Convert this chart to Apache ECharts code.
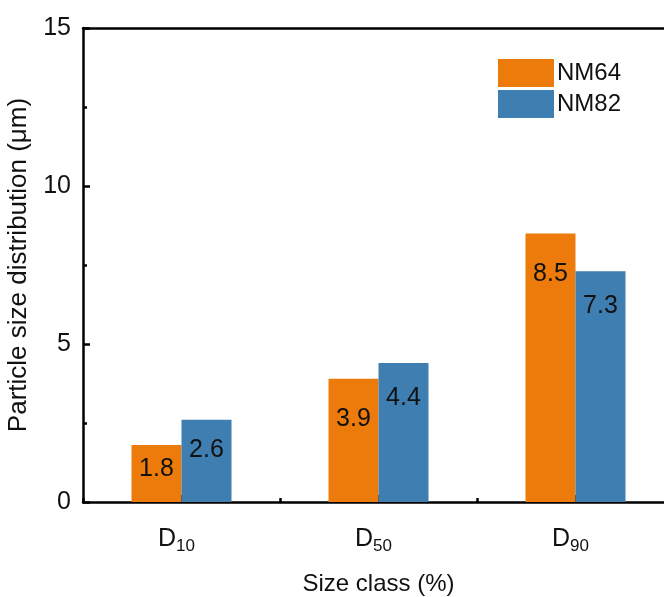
<!DOCTYPE html>
<html><head><meta charset="utf-8">
<script src="https://cdn.jsdelivr.net/npm/echarts@6/dist/echarts.min.js"></script>
<style>html,body{margin:0;padding:0;background:#fff}#c{width:664px;height:597px}</style>
</head><body><div id="c"></div>
<script>
const categories = ['10', '50', '90'];
const seriesNames = ['NM64', 'NM82'];
const nm64 = [1.8, 3.9, 8.5];
const nm82 = [2.6, 4.4, 7.3];
const yTicks = [0, 5, 10, 15];
// label gap below bar top (style only)
const gap64 = [11, 28, 28];
const gap82 = [18, 23, 22];

const FONT = 'Arial, "Liberation Sans", sans-serif';
const chart = echarts.init(document.getElementById('c'), null, {renderer: 'canvas'});
const lbl = {show: true, position: 'insideTop', color: '#111', fontSize: 25, fontFamily: FONT,
  formatter: p => p.value.toFixed(1)};
const mk = (vals, gaps) => vals.map((v, i) => ({value: v, label: {distance: gaps[i]}}));
chart.setOption({
  animation: false,
  backgroundColor: '#fff',
  textStyle: {fontFamily: FONT},
  legend: {
    orient: 'vertical', left: 493, top: 54, itemWidth: 56, itemHeight: 28, itemGap: 3,
    icon: 'rect', textStyle: {fontSize: 24, color: '#111', fontFamily: FONT, padding: [0,0,0,-2]},
    data: seriesNames
  },
  grid: {left: 83, top: 28, width: 591, height: 474, show: false, containLabel: false, outerBoundsMode: 'none'},
  xAxis: [{
    type: 'category', data: categories, position: 'bottom',
    name: 'Size class (%)', nameLocation: 'middle', nameGap: 70,
    nameTextStyle: {fontSize: 24, color: '#111', fontFamily: FONT},
    axisLine: {lineStyle: {color: '#000', width: 2.5}},
    axisTick: {show: true, alignWithLabel: true, inside: true, length: 7, lineStyle: {color: '#000', width: 2.5}},
    axisLabel: {margin: 22, padding: [0, 10, 0, 0], formatter: v => '{a|D}{b|' + v + '}',
      rich: {a: {fontSize: 25, color: '#111', fontFamily: FONT},
             b: {fontSize: 17, color: '#111', fontFamily: FONT, padding: [14, 0, 0, 0]}}}
  }, {
    type: 'value', position: 'bottom', min: 0, max: 3, interval: 1,
    axisLine: {show: false}, axisLabel: {show: false}, splitLine: {show: false},
    axisTick: {show: true, inside: true, length: 4, lineStyle: {color: '#000', width: 2.5}}
  }, {
    type: 'category', position: 'top', data: categories,
    axisLine: {lineStyle: {color: '#000', width: 2.5}}, axisTick: {show: false}, axisLabel: {show: false}
  }],
  yAxis: {
    type: 'value', min: 0, max: 15, interval: 5,
    name: 'Particle size distribution (\u03bcm)', nameLocation: 'middle', nameGap: 50,
    nameTextStyle: {fontSize: 26, color: '#111', fontFamily: FONT},
    axisLine: {show: true, lineStyle: {color: '#000', width: 2.5}},
    axisTick: {show: true, inside: true, length: 7, lineStyle: {color: '#000', width: 2.5}},
    minorTick: {show: true, splitNumber: 2, length: 4, lineStyle: {color: '#000', width: 2.5}},
    axisLabel: {margin: 12, fontSize: 25, color: '#111', fontFamily: FONT,
      formatter: v => yTicks.includes(v) ? String(v) : ''},
    splitLine: {show: false}
  },
  series: [
    {name: seriesNames[0], type: 'bar', data: mk(nm64, gap64), barWidth: 50, barGap: '0%',
     itemStyle: {color: '#EC7B0B'}, label: lbl},
    {name: seriesNames[1], type: 'bar', data: mk(nm82, gap82), barWidth: 50, barGap: '0%',
     itemStyle: {color: '#3F7EB1'}, label: lbl}
  ]
});
</script></body></html>
